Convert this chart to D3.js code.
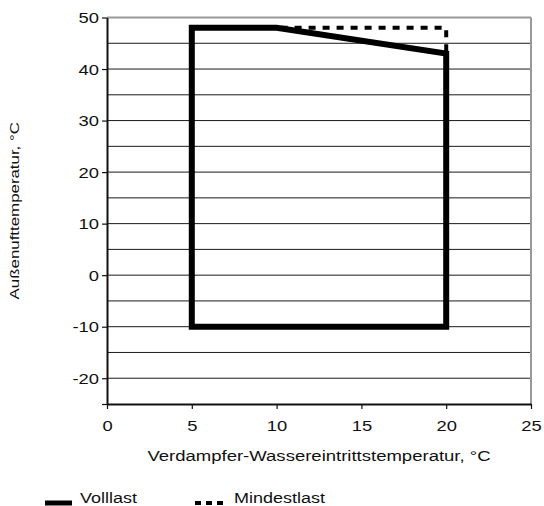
<!DOCTYPE html>
<html>
<head>
<meta charset="utf-8">
<script src="https://cdn.jsdelivr.net/npm/d3@7"></script>
<style>
  html, body { margin: 0; padding: 0; background: #fff; }
  svg { display: block; }
  text { font-family: "Liberation Sans", Arial, Helvetica, sans-serif; fill: #111; }
</style>
</head>
<body>
<svg id="chart" width="544" height="506"></svg>
<script>
// Operating envelope: evaporator water inlet temperature vs. outdoor air temperature
const xTicks = [0, 5, 10, 15, 20, 25];
const yTickLabels = [-20, -10, 0, 10, 20, 30, 40, 50];
const yGrid = [-20, -15, -10, -5, 0, 5, 10, 15, 20, 25, 30, 35, 40, 45];

// Full load envelope (closed polygon)
const vollX = [5, 5, 10, 20, 20, 5];
const vollY = [-10, 48, 48, 43, -10, -10];

// Minimum load upper boundary
const mindX = [10, 20, 20];
const mindY = [48, 48, 43];

const seriesNames = ["Volllast", "Mindestlast"];
const xTitle = "Verdampfer-Wassereintrittstemperatur, °C";
const yTitle = "Außenufttemperatur, °C";

const svg = d3.select("#chart");
const x = d3.scaleLinear().domain([0, 25]).range([107, 531]);
const y = d3.scaleLinear().domain([-25, 50]).range([404, 17.5]);

// horizontal grid
svg.append("g").selectAll("line").data(yGrid).join("line")
  .attr("x1", x(0)).attr("x2", x(25))
  .attr("y1", d => y(d)).attr("y2", d => y(d))
  .attr("stroke", "#1a1a1a").attr("stroke-width", 1);

// top and right frame
svg.append("line").attr("x1", x(0)).attr("x2", x(25)).attr("y1", y(50)).attr("y2", y(50))
  .attr("stroke", "#999").attr("stroke-width", 2);
svg.append("line").attr("x1", x(25)).attr("x2", x(25)).attr("y1", y(50)).attr("y2", y(-25))
  .attr("stroke", "#999").attr("stroke-width", 2);

// y axis
const gy = svg.append("g").attr("transform", `translate(${x(0)},0)`)
  .call(d3.axisLeft(y).tickValues(yTickLabels.concat([-25])).tickSize(5).tickSizeOuter(0)
    .tickFormat(d => yTickLabels.includes(d) ? d : ""));
gy.select(".domain").attr("stroke", "#111").attr("stroke-width", 2);
gy.selectAll(".tick line").attr("stroke", "#111").attr("stroke-width", 1.2);
gy.selectAll(".tick text")
  .attr("x", 0).attr("dy", "0.35em")
  .attr("transform", "translate(-8,0) scale(1.27,1)")
  .style("font-size", "14.5px").style("font-family", "Liberation Sans, Arial, sans-serif").attr("fill", "#111");

// x axis
const gx = svg.append("g").attr("transform", `translate(0,${y(-25)})`)
  .call(d3.axisBottom(x).tickValues(xTicks).tickSize(5).tickSizeOuter(0).tickFormat(d3.format("d")));
gx.select(".domain").attr("stroke", "#111").attr("stroke-width", 2);
gx.selectAll(".tick line").attr("stroke", "#111").attr("stroke-width", 1.2);
gx.selectAll(".tick text")
  .attr("y", 0).attr("dy", 0)
  .attr("transform", "translate(0,26.5) scale(1.27,1)")
  .style("font-size", "14.5px").style("font-family", "Liberation Sans, Arial, sans-serif").attr("fill", "#111");

// axis titles
svg.append("text")
  .attr("transform", `translate(${(x(0) + x(25)) / 2},461) scale(1.235,1)`)
  .attr("text-anchor", "middle").style("font-size", "15px").text(xTitle);
svg.append("text")
  .attr("transform", `translate(19,${(y(50) + y(-25)) / 2}) rotate(-90) scale(1.25,1)`)
  .attr("text-anchor", "middle").style("font-size", "13.5px").text(yTitle);

const line = d3.line().x(d => x(d[0])).y(d => y(d[1]));

// Volllast
svg.append("path")
  .datum(vollX.map((v, i) => [v, vollY[i]]))
  .attr("d", d => line(d) + "Z")
  .attr("fill", "none").attr("stroke", "#000").attr("stroke-width", 6)
  .attr("stroke-linejoin", "miter");

// Mindestlast
svg.append("path")
  .datum(mindX.map((v, i) => [v, mindY[i]]))
  .attr("d", line)
  .attr("fill", "none").attr("stroke", "#000").attr("stroke-width", 4)
  .attr("stroke-dasharray", "7,7").attr("stroke-dashoffset", 10);

// legend
const lg = svg.append("g");
lg.append("line").attr("x1", 45).attr("x2", 72).attr("y1", 503).attr("y2", 503)
  .attr("stroke", "#000").attr("stroke-width", 5);
lg.append("text").attr("transform", "translate(80,503) scale(1.2,1)")
  .style("font-size", "15px").text(seriesNames[0]);
lg.append("line").attr("x1", 195).attr("x2", 223).attr("y1", 503).attr("y2", 503)
  .attr("stroke", "#000").attr("stroke-width", 4).attr("stroke-dasharray", "6,5");
lg.append("text").attr("transform", "translate(234,503) scale(1.2,1)")
  .style("font-size", "15px").text(seriesNames[1]);
</script>
</body>
</html>
